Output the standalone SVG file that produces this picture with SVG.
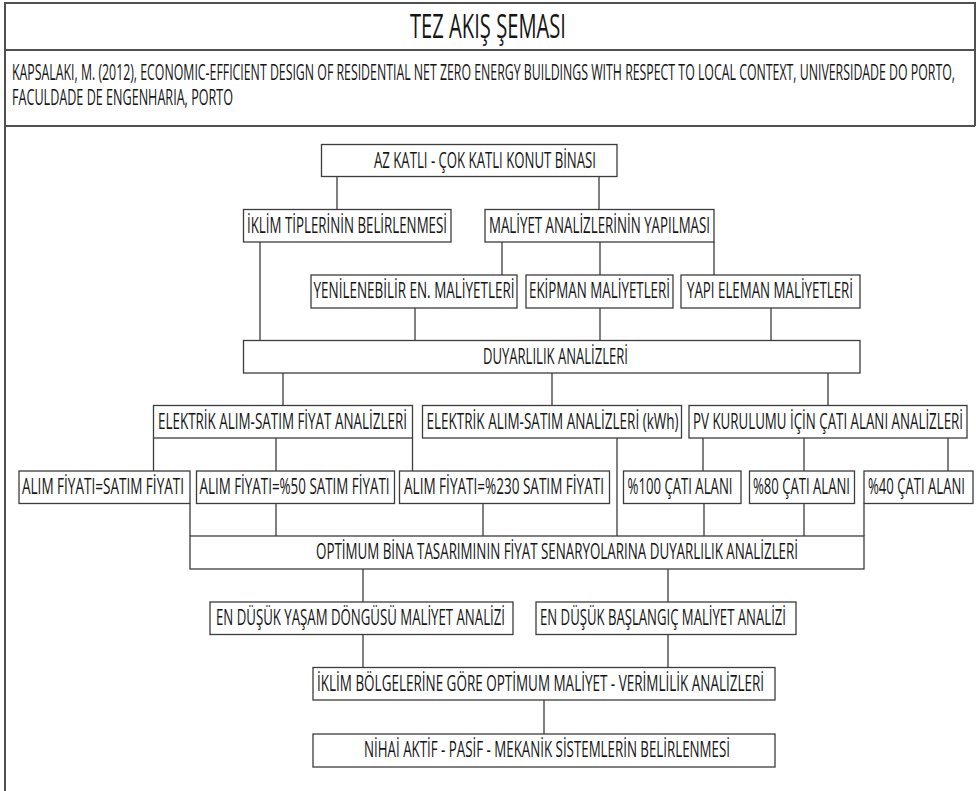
<svg xmlns="http://www.w3.org/2000/svg" width="976" height="791" viewBox="0 0 976 791">
  <style>
    .frame { fill: none; stroke: #505050; stroke-width: 2; }
    .box { fill: #ffffff; stroke: #3c3c3c; stroke-width: 1.3; }
    .wire { fill: none; stroke: #3c3c3c; stroke-width: 1.3; }
    .lbl { font-family: "Open Sans", "Liberation Sans", sans-serif; font-size: 22px; fill: #151515; }
    .title { font-family: "Open Sans", "Liberation Sans", sans-serif; font-size: 32px; fill: #151515; }
  </style>
  <rect width="976" height="791" fill="#ffffff"/>

  <!-- page frame with title and reference rows -->
  <g id="frame">
    <path class="frame" d="M5,791 V3 H975 V126 M5,50 H975 M5,126 H975"/>
    <text class="title" x="410" y="37.5" textLength="156" lengthAdjust="spacingAndGlyphs">TEZ AKIŞ ŞEMASI</text>
    <text class="lbl" x="12" y="80" textLength="943" lengthAdjust="spacingAndGlyphs">KAPSALAKI, M. (2012), ECONOMIC-EFFICIENT DESIGN OF RESIDENTIAL NET ZERO ENERGY BUILDINGS WITH RESPECT TO LOCAL CONTEXT, UNIVERSIDADE DO PORTO,</text>
    <text class="lbl" x="12" y="105" textLength="221" lengthAdjust="spacingAndGlyphs">FACULDADE DE ENGENHARIA, PORTO</text>
  </g>

  <!-- connectors -->
  <g id="connectors">
    <path class="wire" d="
      M337,176.5 V209.5 M599,176.5 V209.5
      M260,242 V340.5
      M502,242 V275 M600,242 V275 M714,242 V275
      M415,308 V340.5 M600,308 V340.5 M771,308 V340.5
      M283,373 V405.5 M552,373 V405.5 M828,373 V405.5
      M153.5,438 V471 M276,438 V471 M412.5,438 V471
      M617,438 V536
      M703,438 V471 M804,438 V471 M948,438 V471
      M190,503.5 V536 M276,503.5 V536 M483,503.5 V536
      M704,503.5 V536 M804,503.5 V536 M864,503.5 V536
      M363,569 V602 M668,569 V602
      M363,634.5 V667.5 M668,634.5 V667.5
      M544,700 V734"/>
  </g>

  <g id="n-konut">
    <rect class="box" x="321.5" y="144.5" width="295.5" height="32"/>
    <text class="lbl" x="374" y="167.5" textLength="222" lengthAdjust="spacingAndGlyphs">AZ KATLI - ÇOK KATLI KONUT BİNASI</text>
  </g>
  <g id="n-iklim-tipleri">
    <rect class="box" x="243.5" y="209.5" width="207.5" height="32.5"/>
    <text class="lbl" x="247" y="232.5" textLength="200" lengthAdjust="spacingAndGlyphs">İKLİM TİPLERİNİN BELİRLENMESİ</text>
  </g>
  <g id="n-maliyet-analizleri">
    <rect class="box" x="485" y="209.5" width="229" height="32.5"/>
    <text class="lbl" x="489" y="232.5" textLength="221" lengthAdjust="spacingAndGlyphs">MALİYET ANALİZLERİNİN YAPILMASI</text>
  </g>
  <g id="n-yenilenebilir">
    <rect class="box" x="311" y="275" width="206" height="33"/>
    <text class="lbl" x="313.5" y="298" textLength="201" lengthAdjust="spacingAndGlyphs">YENİLENEBİLİR EN. MALİYETLERİ</text>
  </g>
  <g id="n-ekipman">
    <rect class="box" x="526" y="275" width="147" height="33"/>
    <text class="lbl" x="529" y="298" textLength="141" lengthAdjust="spacingAndGlyphs">EKİPMAN MALİYETLERİ</text>
  </g>
  <g id="n-yapi-eleman">
    <rect class="box" x="681" y="275" width="179" height="33"/>
    <text class="lbl" x="687" y="298" textLength="166" lengthAdjust="spacingAndGlyphs">YAPI ELEMAN MALİYETLERİ</text>
  </g>
  <g id="n-duyarlilik">
    <rect class="box" x="243.5" y="340.5" width="616.5" height="32.5"/>
    <text class="lbl" x="483" y="363.5" textLength="145" lengthAdjust="spacingAndGlyphs">DUYARLILIK ANALİZLERİ</text>
  </g>
  <g id="n-fiyat-analizleri">
    <rect class="box" x="153.5" y="405.5" width="259" height="32.5"/>
    <text class="lbl" x="158" y="428.5" textLength="249" lengthAdjust="spacingAndGlyphs">ELEKTRİK ALIM-SATIM FİYAT ANALİZLERİ</text>
  </g>
  <g id="n-kwh-analizleri">
    <rect class="box" x="422.5" y="405.5" width="259" height="32.5"/>
    <text class="lbl" x="426.5" y="428.5" textLength="252" lengthAdjust="spacingAndGlyphs">ELEKTRİK ALIM-SATIM ANALİZLERİ (kWh)</text>
  </g>
  <g id="n-pv-cati">
    <rect class="box" x="689" y="405.5" width="278" height="32.5"/>
    <text class="lbl" x="693" y="428.5" textLength="270" lengthAdjust="spacingAndGlyphs">PV KURULUMU İÇİN ÇATI ALANI ANALİZLERİ</text>
  </g>
  <g id="n-alim-esit">
    <rect class="box" x="19" y="471" width="171" height="32.5"/>
    <text class="lbl" x="22" y="494" textLength="162" lengthAdjust="spacingAndGlyphs">ALIM FİYATI=SATIM FİYATI</text>
  </g>
  <g id="n-alim-50">
    <rect class="box" x="196.5" y="471" width="198" height="32.5"/>
    <text class="lbl" x="199.5" y="494" textLength="190" lengthAdjust="spacingAndGlyphs">ALIM FİYATI=%50 SATIM FİYATI</text>
  </g>
  <g id="n-alim-230">
    <rect class="box" x="399.5" y="471" width="210" height="32.5"/>
    <text class="lbl" x="404" y="494" textLength="200" lengthAdjust="spacingAndGlyphs">ALIM FİYATI=%230 SATIM FİYATI</text>
  </g>
  <g id="n-cati-100">
    <rect class="box" x="623.5" y="471" width="117.5" height="32.5"/>
    <text class="lbl" x="627.5" y="494" textLength="105" lengthAdjust="spacingAndGlyphs">%100 ÇATI ALANI</text>
  </g>
  <g id="n-cati-80">
    <rect class="box" x="749.5" y="471" width="105" height="32.5"/>
    <text class="lbl" x="753" y="494" textLength="97" lengthAdjust="spacingAndGlyphs">%80 ÇATI ALANI</text>
  </g>
  <g id="n-cati-40">
    <rect class="box" x="864" y="471" width="109" height="32.5"/>
    <text class="lbl" x="868" y="494" textLength="97" lengthAdjust="spacingAndGlyphs">%40 ÇATI ALANI</text>
  </g>
  <g id="n-optimum">
    <rect class="box" x="190" y="536" width="674" height="33"/>
    <text class="lbl" x="316" y="559" textLength="482" lengthAdjust="spacingAndGlyphs">OPTİMUM BİNA TASARIMININ FİYAT SENARYOLARINA DUYARLILIK ANALİZLERİ</text>
  </g>
  <g id="n-yasam-dongusu">
    <rect class="box" x="210" y="602" width="303" height="32.5"/>
    <text class="lbl" x="216" y="625" textLength="289" lengthAdjust="spacingAndGlyphs">EN DÜŞÜK YAŞAM DÖNGÜSÜ MALİYET ANALİZİ</text>
  </g>
  <g id="n-baslangic">
    <rect class="box" x="536" y="602" width="260" height="32.5"/>
    <text class="lbl" x="540" y="625" textLength="246" lengthAdjust="spacingAndGlyphs">EN DÜŞÜK BAŞLANGIÇ MALİYET ANALİZİ</text>
  </g>
  <g id="n-iklim-bolgeleri">
    <rect class="box" x="313" y="667.5" width="462" height="32.5"/>
    <text class="lbl" x="317" y="690.5" textLength="447" lengthAdjust="spacingAndGlyphs">İKLİM BÖLGELERİNE GÖRE OPTİMUM MALİYET - VERİMLİLİK ANALİZLERİ</text>
  </g>
  <g id="n-nihai">
    <rect class="box" x="313" y="734" width="462" height="33"/>
    <text class="lbl" x="364" y="757" textLength="366" lengthAdjust="spacingAndGlyphs">NİHAİ AKTİF - PASİF - MEKANİK SİSTEMLERİN BELİRLENMESİ</text>
  </g>
</svg>
